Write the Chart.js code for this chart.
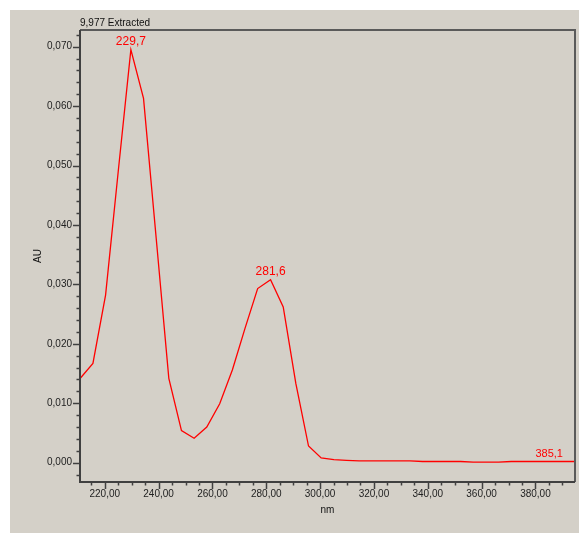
<!DOCTYPE html>
<html>
<head>
<meta charset="utf-8">
<script src="https://cdn.jsdelivr.net/npm/chart.js@4"></script>
<style>
html,body{margin:0;padding:0;background:#ffffff;}
canvas{display:block;}
</style>
</head>
<body>
<canvas id="c" width="579" height="533"></canvas>
<script>
// ---- data ----
const wavelengths = [210.9, 215.6, 220.3, 225.0, 229.7, 234.4, 239.1, 243.8, 248.5, 253.2,
  257.9, 262.7, 267.4, 272.1, 276.8, 281.6, 286.3, 291.0, 295.7, 300.4,
  305.1, 309.8, 314.5, 319.2, 324.0, 328.7, 333.4, 338.1, 342.8, 347.5,
  352.2, 356.9, 361.6, 366.3, 371.0, 375.7, 380.4, 385.1, 389.8, 394.5];
const absorbance = [0.0142, 0.0167, 0.0282, 0.0490, 0.0695, 0.0613, 0.0378, 0.0142, 0.0054, 0.0041,
  0.0060, 0.0099, 0.0156, 0.0226, 0.0293, 0.0308, 0.0262, 0.0133, 0.0028, 0.0008,
  0.0005, 0.0004, 0.0003, 0.0003, 0.0003, 0.0003, 0.0003, 0.0002, 0.0002, 0.0002,
  0.0002, 0.0001, 0.0001, 0.0001, 0.0002, 0.0002, 0.0002, 0.0002, 0.0002, 0.0002];
const peakLabels = ["229,7", "281,6", "385,1"];
const peakX = [229.7, 281.6, 385.1];
const peakY = [0.0695, 0.0308, 0.0002];
const peakFontSize = [12, 12, 11];
const yMajorTicks = [0, 0.01, 0.02, 0.03, 0.04, 0.05, 0.06, 0.07];
const xMajorTicks = [220, 240, 260, 280, 300, 320, 340, 360, 380];
const titleText = "9,977 Extracted";
const xTitle = "nm";
const yTitle = "AU";

const FONT = "'Liberation Sans', Arial, sans-serif";
const AXIS_COLOR = "#404040";

const points = wavelengths.map((x, i) => ({x: x, y: absorbance[i]}));

const decorPlugin = {
  id: 'decor',
  beforeDraw(chart) {
    const ctx = chart.ctx;
    ctx.save();
    ctx.fillStyle = '#ffffff';
    ctx.fillRect(0, 0, chart.width, chart.height);
    ctx.fillStyle = '#d4d0c8';
    ctx.fillRect(10, 10, chart.width - 10, chart.height - 10);
    ctx.restore();
  },
  afterDraw(chart) {
    const ctx = chart.ctx;
    const a = chart.chartArea;
    const xs = chart.scales.x, ys = chart.scales.y;
    ctx.save();
    // frame: top & right
    ctx.strokeStyle = '#5a5a5a';
    ctx.lineWidth = 2;
    ctx.beginPath();
    ctx.moveTo(a.left, a.top);
    ctx.lineTo(a.right, a.top);
    ctx.lineTo(a.right, a.bottom);
    ctx.stroke();
    // axes: left & bottom
    ctx.strokeStyle = AXIS_COLOR;
    ctx.beginPath();
    ctx.moveTo(a.left, a.top);
    ctx.lineTo(a.left, a.bottom);
    ctx.lineTo(a.right, a.bottom);
    ctx.stroke();
    // y ticks
    ctx.lineWidth = 1.5;
    ctx.beginPath();
    for (let k = -1; k <= 36; k++) {
      const v = k * 0.002;
      if (v < ys.min || v > ys.max) continue;
      const py = Math.round(ys.getPixelForValue(v)) + 0.5;
      const len = (k % 5 === 0) ? 7 : 3.5;
      ctx.moveTo(a.left - len, py);
      ctx.lineTo(a.left, py);
    }
    // x ticks
    for (let k = 42; k <= 79; k++) {
      const v = k * 5;
      if (v < xs.min || v > xs.max) continue;
      const px = Math.round(xs.getPixelForValue(v)) + 0.5;
      const len = (v % 20 === 0) ? 7 : 3.5;
      ctx.moveTo(px, a.bottom);
      ctx.lineTo(px, a.bottom + len);
    }
    ctx.stroke();
    // titles
    ctx.fillStyle = '#111111';
    ctx.font = '10px ' + FONT;
    ctx.textAlign = 'left';
    ctx.textBaseline = 'middle';
    ctx.fillText(titleText, a.left, 23);
    ctx.textAlign = 'center';
    ctx.fillText(xTitle, (a.left + a.right) / 2, 510);
    ctx.save();
    ctx.translate(38, (a.top + a.bottom) / 2);
    ctx.rotate(-Math.PI / 2);
    ctx.fillText(yTitle, 0, 0);
    ctx.restore();
    // peak labels
    ctx.fillStyle = '#ff0000';
    ctx.textAlign = 'center';
    ctx.textBaseline = 'alphabetic';
    for (let i = 0; i < peakLabels.length; i++) {
      ctx.font = peakFontSize[i] + 'px ' + FONT;
      const px = xs.getPixelForValue(peakX[i]);
      const py = ys.getPixelForValue(peakY[i]);
      ctx.fillText(peakLabels[i], px, py - 4.5);
    }
    ctx.restore();
  }
};

new Chart(document.getElementById('c'), {
  type: 'line',
  data: {
    datasets: [{
      data: points,
      borderColor: '#ff0000',
      borderWidth: 1.3,
      pointRadius: 0,
      tension: 0,
      fill: false
    }]
  },
  options: {
    responsive: false,
    animation: false,
    devicePixelRatio: 1,
    layout: {padding: {left: 10, top: 30, right: 4, bottom: 0}},
    plugins: {legend: {display: false}, tooltip: {enabled: false}, title: {display: false}},
    scales: {
      x: {
        type: 'linear',
        min: 210.8,
        max: 394.7,
        grid: {display: false, drawTicks: false},
        border: {display: false},
        afterBuildTicks(scale) { scale.ticks = xMajorTicks.map(v => ({value: v})); },
        afterFit(scale) { scale.height = 51; },
        ticks: {
          autoSkip: false, maxRotation: 0, padding: 6,
          color: '#222222',
          font: {family: FONT, size: 10},
          callback: (v) => Number(v).toFixed(2).replace('.', ',')
        }
      },
      y: {
        type: 'linear',
        min: -0.00325,
        max: 0.0728,
        grid: {display: false, drawTicks: false},
        border: {display: false},
        afterBuildTicks(scale) { scale.ticks = yMajorTicks.map(v => ({value: v})); },
        afterFit(scale) { scale.width = 70; },
        ticks: {
          autoSkip: false, padding: 8,
          color: '#222222',
          font: {family: FONT, size: 10},
          callback: (v) => Number(v).toFixed(3).replace('.', ',')
        }
      }
    }
  },
  plugins: [decorPlugin]
});
</script>
</body>
</html>
